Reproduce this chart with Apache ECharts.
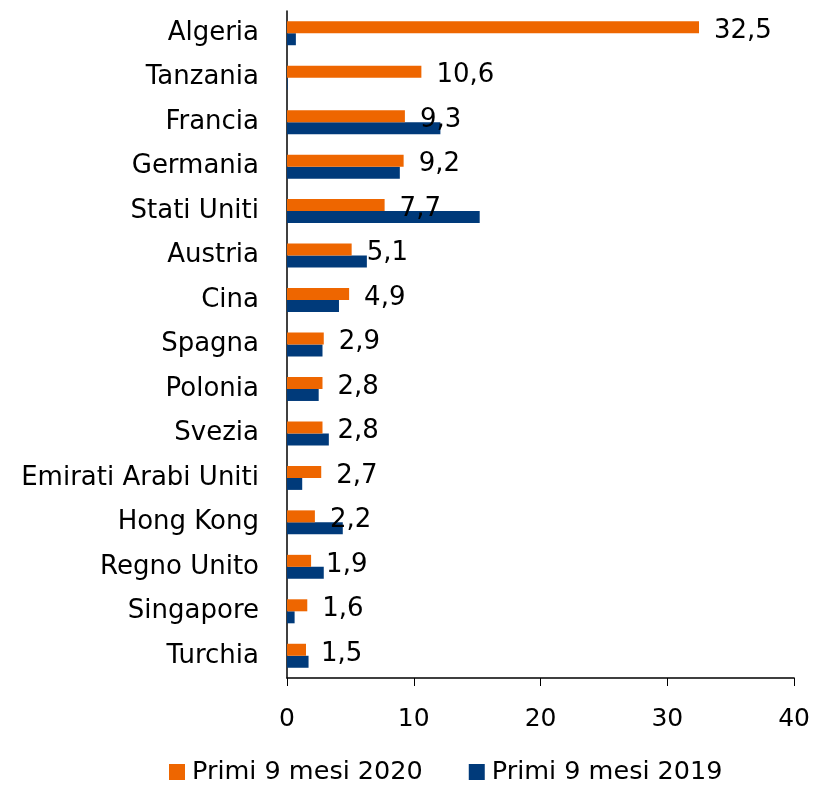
<!DOCTYPE html>
<html><head><meta charset="utf-8">
<script src="https://cdn.jsdelivr.net/npm/echarts@6/dist/echarts.min.js"></script>
<style>html,body{margin:0;padding:0;background:#fff}#c{width:813px;height:785px}</style>
</head><body><div id="c"></div>
<script>
const categories = ["Algeria","Tanzania","Francia","Germania","Stati Uniti","Austria","Cina","Spagna","Polonia","Svezia","Emirati Arabi Uniti","Hong Kong","Regno Unito","Singapore","Turchia"];
const values2020 = [32.5,10.6,9.3,9.2,7.7,5.1,4.9,2.9,2.8,2.8,2.7,2.2,1.9,1.6,1.5];
const values2019 = [0.7,0.05,12.1,8.9,15.2,6.3,4.1,2.8,2.5,3.3,1.2,4.4,2.9,0.6,1.7];
const seriesNames = ["Primi 9 mesi 2020","Primi 9 mesi 2019"];
const xTicks = {min:0,max:40,interval:10};

const FONT = "DejaVu Sans";
const chart = echarts.init(document.getElementById('c'));
chart.setOption({
  animation:false,
  textStyle:{fontFamily:FONT},
  grid:{left:287,right:18,top:11,bottom:107},
  legend:{
    top:754,left:164,itemWidth:16,itemHeight:16,itemGap:46,
    icon:'rect',
    textStyle:{fontFamily:FONT,fontSize:25.5,color:'#000',padding:[0,0,0,2]},
    data:seriesNames
  },
  xAxis:{
    type:'value',min:xTicks.min,max:xTicks.max,interval:xTicks.interval,
    axisLine:{show:true,lineStyle:{color:'#000',width:1.5}},
    axisTick:{show:true,length:8,lineStyle:{color:'#000'}},
    splitLine:{show:false},
    axisLabel:{fontFamily:FONT,fontSize:25,color:'#000',margin:29}
  },
  yAxis:{
    type:'category',inverse:true,data:categories,
    axisLine:{show:true,lineStyle:{color:'#000',width:1.5}},
    axisTick:{show:false},
    axisLabel:{fontFamily:FONT,fontSize:26,color:'#000',margin:28}
  },
  series:[
    {name:seriesNames[0],type:'bar',data:values2020,barWidth:12,barGap:'0%',
     itemStyle:{color:'#EE6600'},
     label:{show:true,position:'right',distance:15,offset:[0,4],fontFamily:FONT,fontSize:26,color:'#000',
       formatter:p=>String(p.value).replace('.',',')},
     z:3},
    {name:seriesNames[1],type:'bar',data:values2019,barWidth:12,
     itemStyle:{color:'#003A7A'},z:2}
  ]
});
</script></body></html>
